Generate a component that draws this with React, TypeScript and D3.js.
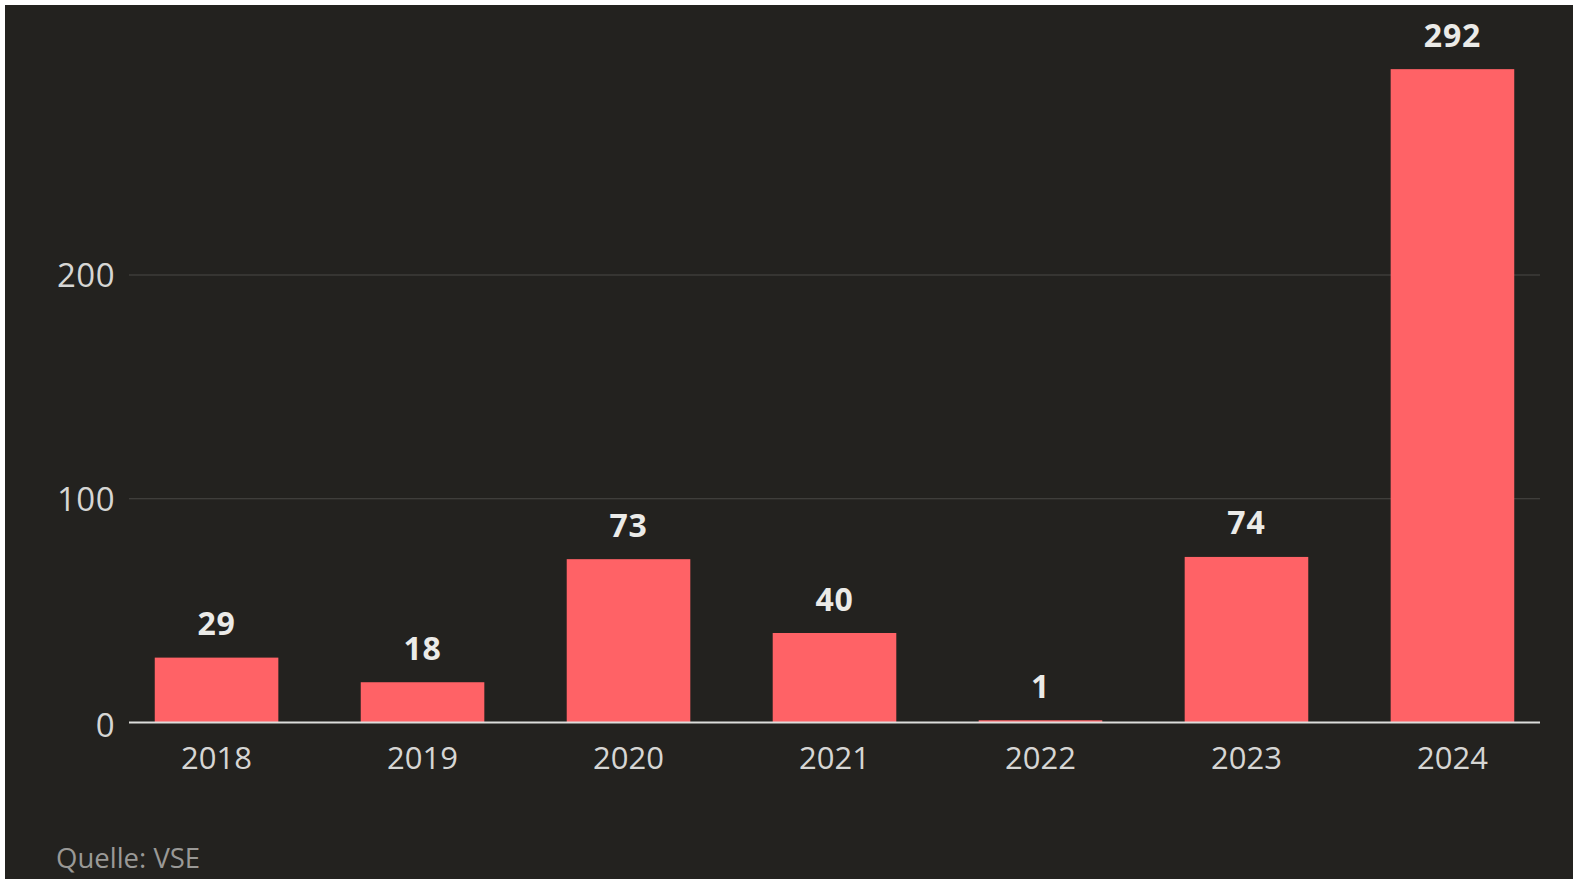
import React from "react";
import * as d3 from "d3";

const years = ["2018", "2019", "2020", "2021", "2022", "2023", "2024"];
const values = [29, 18, 73, 40, 1, 74, 292];
const yTicks = [0, 100, 200];
const source = "Quelle: VSE";

const W = 1573;
const H = 879;
const FONT = "'Open Sans', 'Noto Sans', sans-serif";

export default function App() {
  const x = d3
    .scaleBand<string>()
    .domain(years)
    .range([129, 1540])
    .paddingInner(0.4)
    .paddingOuter(0.125);
  const y = d3.scaleLinear().domain([0, 200]).range([722.5, 275]);

  return (
    <svg
      width={W}
      height={H}
      style={{ position: "fixed", left: 0, top: 0, background: "#ffffff" }}
    >
      <rect x={5} y={5} width={W - 5} height={H - 5} fill="#23221f" />
      {yTicks
        .filter((t) => t !== 0)
        .map((t) => (
          <line
            key={"g" + t}
            x1={129}
            x2={1540}
            y1={y(t)}
            y2={y(t)}
            stroke="#4a4946"
            strokeWidth={1}
          />
        ))}
      {yTicks.map((t) => (
        <text
          key={"t" + t}
          x={115}
          y={y(t) + (t === 0 ? 14 : 12)}
          textAnchor="end"
          fill="#d6d6d4"
          fontFamily={FONT}
          fontSize={33}
          letterSpacing={0.5}
        >
          {t}
        </text>
      ))}
      {years.map((yr, i) => (
        <g key={yr}>
          <rect
            x={x(yr)}
            y={y(values[i])}
            width={x.bandwidth()}
            height={y(0) - y(values[i])}
            fill="#ff6266"
          />
          <text
            x={(x(yr) as number) + x.bandwidth() / 2}
            y={y(values[i]) - 22.5}
            textAnchor="middle"
            fill="#ebebe8"
            fontFamily={FONT}
            fontWeight="bold"
            fontSize={32}
            letterSpacing={0.8}
          >
            {values[i]}
          </text>
          <text
            x={(x(yr) as number) + x.bandwidth() / 2}
            y={769}
            textAnchor="middle"
            fill="#d6d6d4"
            fontFamily={FONT}
            fontSize={31}
          >
            {yr}
          </text>
        </g>
      ))}
      <line x1={129} x2={1540} y1={y(0)} y2={y(0)} stroke="#dddddb" strokeWidth={2} />
      <text x={56} y={868} fill="#9a9996" fontFamily={FONT} fontSize={27.5}>
        {source}
      </text>
    </svg>
  );
}
